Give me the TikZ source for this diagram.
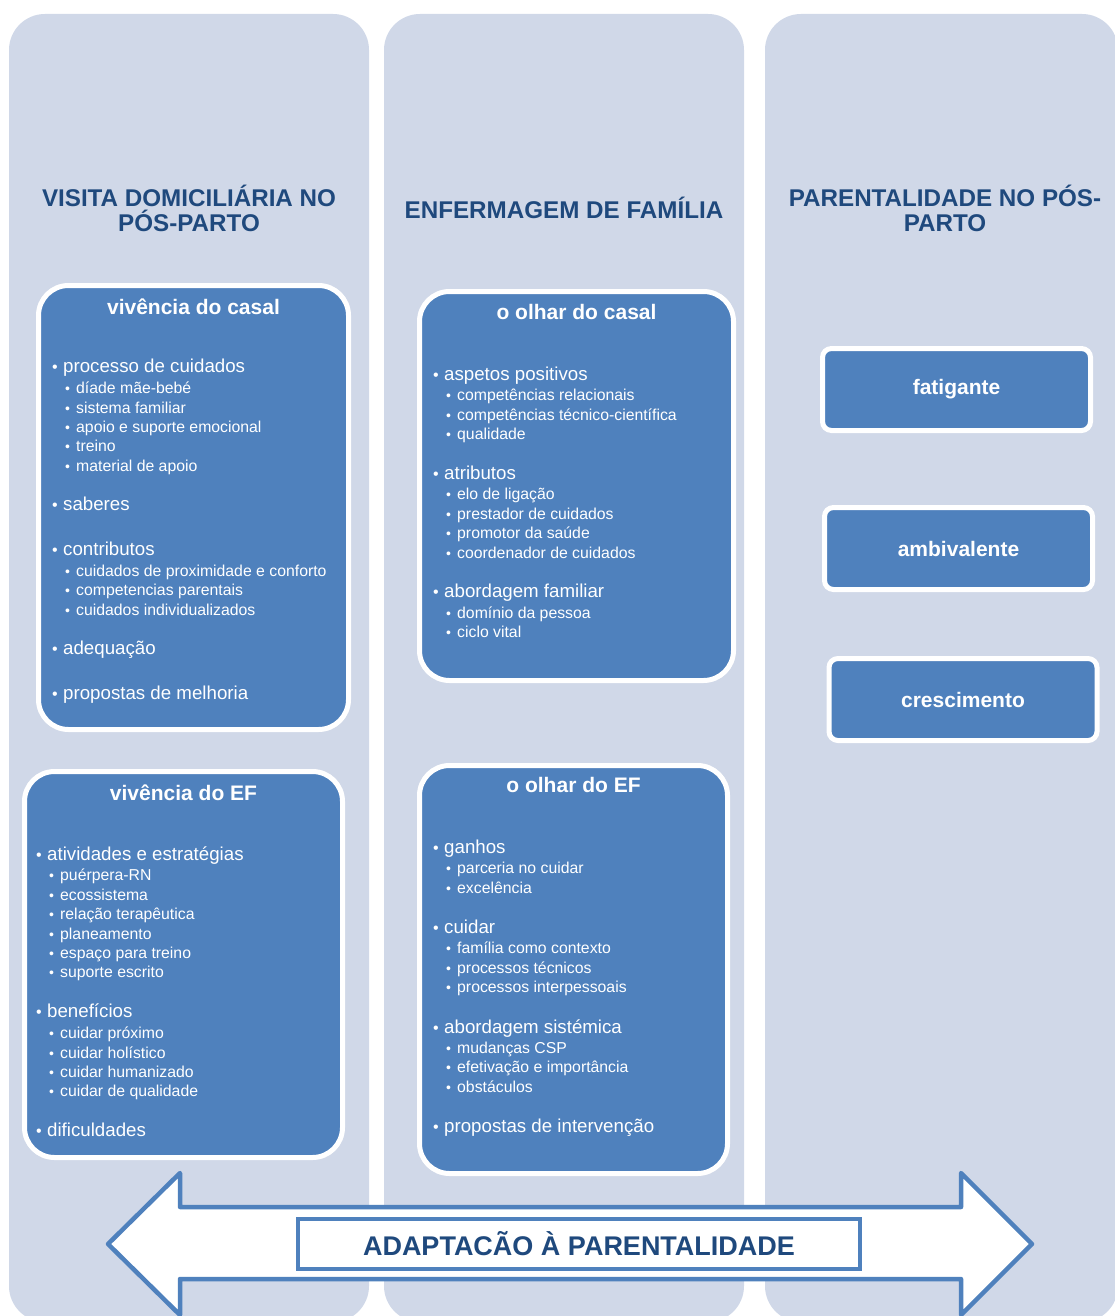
\documentclass[tikz,border=0pt]{standalone}
\usepackage{fontspec}
\setmainfont{Liberation Sans}
\usetikzlibrary{positioning}

\definecolor{colbg}{RGB}{208,216,232}
\definecolor{boxblue}{RGB}{79,129,189}
\definecolor{titleblue}{RGB}{31,73,125}

\newcommand{\itA}[1]{\makebox[11pt][l]{\fontsize{16}{16}\selectfont\textbullet}{\fontsize{18.7}{22}\selectfont #1}}
\newcommand{\itB}[1]{\hspace*{13pt}\makebox[11pt][l]{\fontsize{14}{14}\selectfont\textbullet}#1}

\begin{document}
\begin{tikzpicture}[x=1pt, y=-1pt,
  column/.style={fill=colbg, rounded corners=36pt, minimum width=360pt,
    minimum height=1308pt, inner sep=0pt, outer sep=0pt},
  coltitle/.style={text=titleblue, font=\fontsize{24.2}{25}\selectfont\bfseries,
    align=center, inner sep=0pt},
  bluebox/.style={fill=boxblue, draw=white, line width=5pt, rounded corners=30pt,
    inner sep=0pt, outer sep=0pt},
  boxhead/.style={text=white, font=\fontsize{21}{25}\selectfont\bfseries, inner sep=0pt},
  boxlist/.style={text=white, font=\fontsize{15.8}{19.4}\selectfont, align=left,
    inner sep=0pt, anchor=north west},
  tagbox/.style={fill=boxblue, draw=white, line width=5pt, rounded corners=9pt,
    minimum width=268pt, minimum height=82pt, text=white,
    font=\fontsize{21}{25}\selectfont\bfseries},
  bigarrow/.style={fill=white, draw=boxblue, line width=4.5pt, line join=round},
  arrowlabel/.style={fill=white, draw=boxblue, line width=4pt, minimum width=562pt,
    minimum height=50pt, text=titleblue, font=\fontsize{27}{28}\selectfont\bfseries}
]
\useasboundingbox (0,0) rectangle (1115,1316);
\fill[white] (0,0) rectangle (1115,1316);

% columns
\node[column] (col1) at (189,668) {};
\node[column] (col2) at (564,668) {};
\node[column, minimum width=353pt] (col3) at (941.5,668) {};

\node[coltitle] (title1) at (189,208) {VISITA DOMICILIÁRIA NO\\PÓS-PARTO};
\node[coltitle] (title2) at (564,208) {ENFERMAGEM DE FAMÍLIA};
\node[coltitle] (title3) at (945,208) {PARENTALIDADE NO PÓS-\\PARTO};

% left column
\node[bluebox, minimum width=310pt, minimum height=444pt] (casal) at (193.5,507.5) {};
\node[boxhead, below=13pt of casal.north] (casalhead) {vivência do casal};
\node[boxlist, below right=73pt and 13.5pt of casal.north west] (casallist) {%
  \itA{processo de cuidados}\\[2pt]
  \itB{díade mãe-bebé}\\
  \itB{sistema familiar}\\
  \itB{apoio e suporte emocional}\\
  \itB{treino}\\
  \itB{material de apoio}\\[20pt]
  \itA{saberes}\\[25pt]
  \itA{contributos}\\[2pt]
  \itB{cuidados de proximidade e conforto}\\
  \itB{competencias parentais}\\
  \itB{cuidados individualizados}\\[20pt]
  \itA{adequação}\\[25pt]
  \itA{propostas de melhoria}};

\node[bluebox, minimum width=318pt, minimum height=386pt] (ef) at (183.5,964.5) {};
\node[boxhead, below=13pt of ef.north] (efhead) {vivência do EF};
\node[boxlist, below right=75pt and 11.5pt of ef.north west] (eflist) {%
  \itA{atividades e estratégias}\\[1pt]
  \itB{puérpera-RN}\\
  \itB{ecossistema}\\
  \itB{relação terapêutica}\\
  \itB{planeamento}\\
  \itB{espaço para treino}\\
  \itB{suporte escrito}\\[20pt]
  \itA{benefícios}\\[2pt]
  \itB{cuidar próximo}\\
  \itB{cuidar holístico}\\
  \itB{cuidar humanizado}\\
  \itB{cuidar de qualidade}\\[20pt]
  \itA{dificuldades}};

% middle column
\node[bluebox, minimum width=314pt, minimum height=389pt] (olharcasal) at (576.5,486) {};
\node[boxhead, below=13pt of olharcasal.north] (olharcasalhead) {o olhar do casal};
\node[boxlist, font=\fontsize{15.8}{19.5}\selectfont,
  below right=75pt and 13.5pt of olharcasal.north west] (olharcasallist) {%
  \itA{aspetos positivos}\\[1pt]
  \itB{competências relacionais}\\
  \itB{competências técnico-científica}\\
  \itB{qualidade}\\[20pt]
  \itA{atributos}\\[1pt]
  \itB{elo de ligação}\\
  \itB{prestador de cuidados}\\
  \itB{promotor da saúde}\\
  \itB{coordenador de cuidados}\\[20pt]
  \itA{abordagem familiar}\\[1pt]
  \itB{domínio da pessoa}\\
  \itB{ciclo vital}};

\node[bluebox, minimum width=308pt, minimum height=408pt] (olharef) at (573.5,969.5) {};
\node[boxhead, below=12pt of olharef.north] (olharefhead) {o olhar do EF};
\node[boxlist, below right=74pt and 13.5pt of olharef.north west] (olhareflist) {%
  \itA{ganhos}\\[1pt]
  \itB{parceria no cuidar}\\
  \itB{excelência}\\[21pt]
  \itA{cuidar}\\[1pt]
  \itB{família como contexto}\\
  \itB{processos técnicos}\\
  \itB{processos interpessoais}\\[21pt]
  \itA{abordagem sistémica}\\[1pt]
  \itB{mudanças CSP}\\
  \itB{efetivação e importância}\\
  \itB{obstáculos}\\[21pt]
  \itA{propostas de intervenção}};

% right column
\node[tagbox] (fatigante) at (956.5,389.5) {fatigante};
\node[tagbox] (ambivalente) at (958.5,548.5) {ambivalente};
\node[tagbox] (crescimento) at (963,699.5) {crescimento};

% double arrow
\draw[bigarrow] (108,1244) -- (180,1173) -- (180,1207) -- (961,1207) -- (961,1173)
  -- (1032,1244) -- (961,1315) -- (961,1279) -- (180,1279) -- (180,1315) -- cycle;
\node[arrowlabel] (adapt) at (579,1244) {ADAPTACÃO À PARENTALIDADE};
\end{tikzpicture}
\end{document}
